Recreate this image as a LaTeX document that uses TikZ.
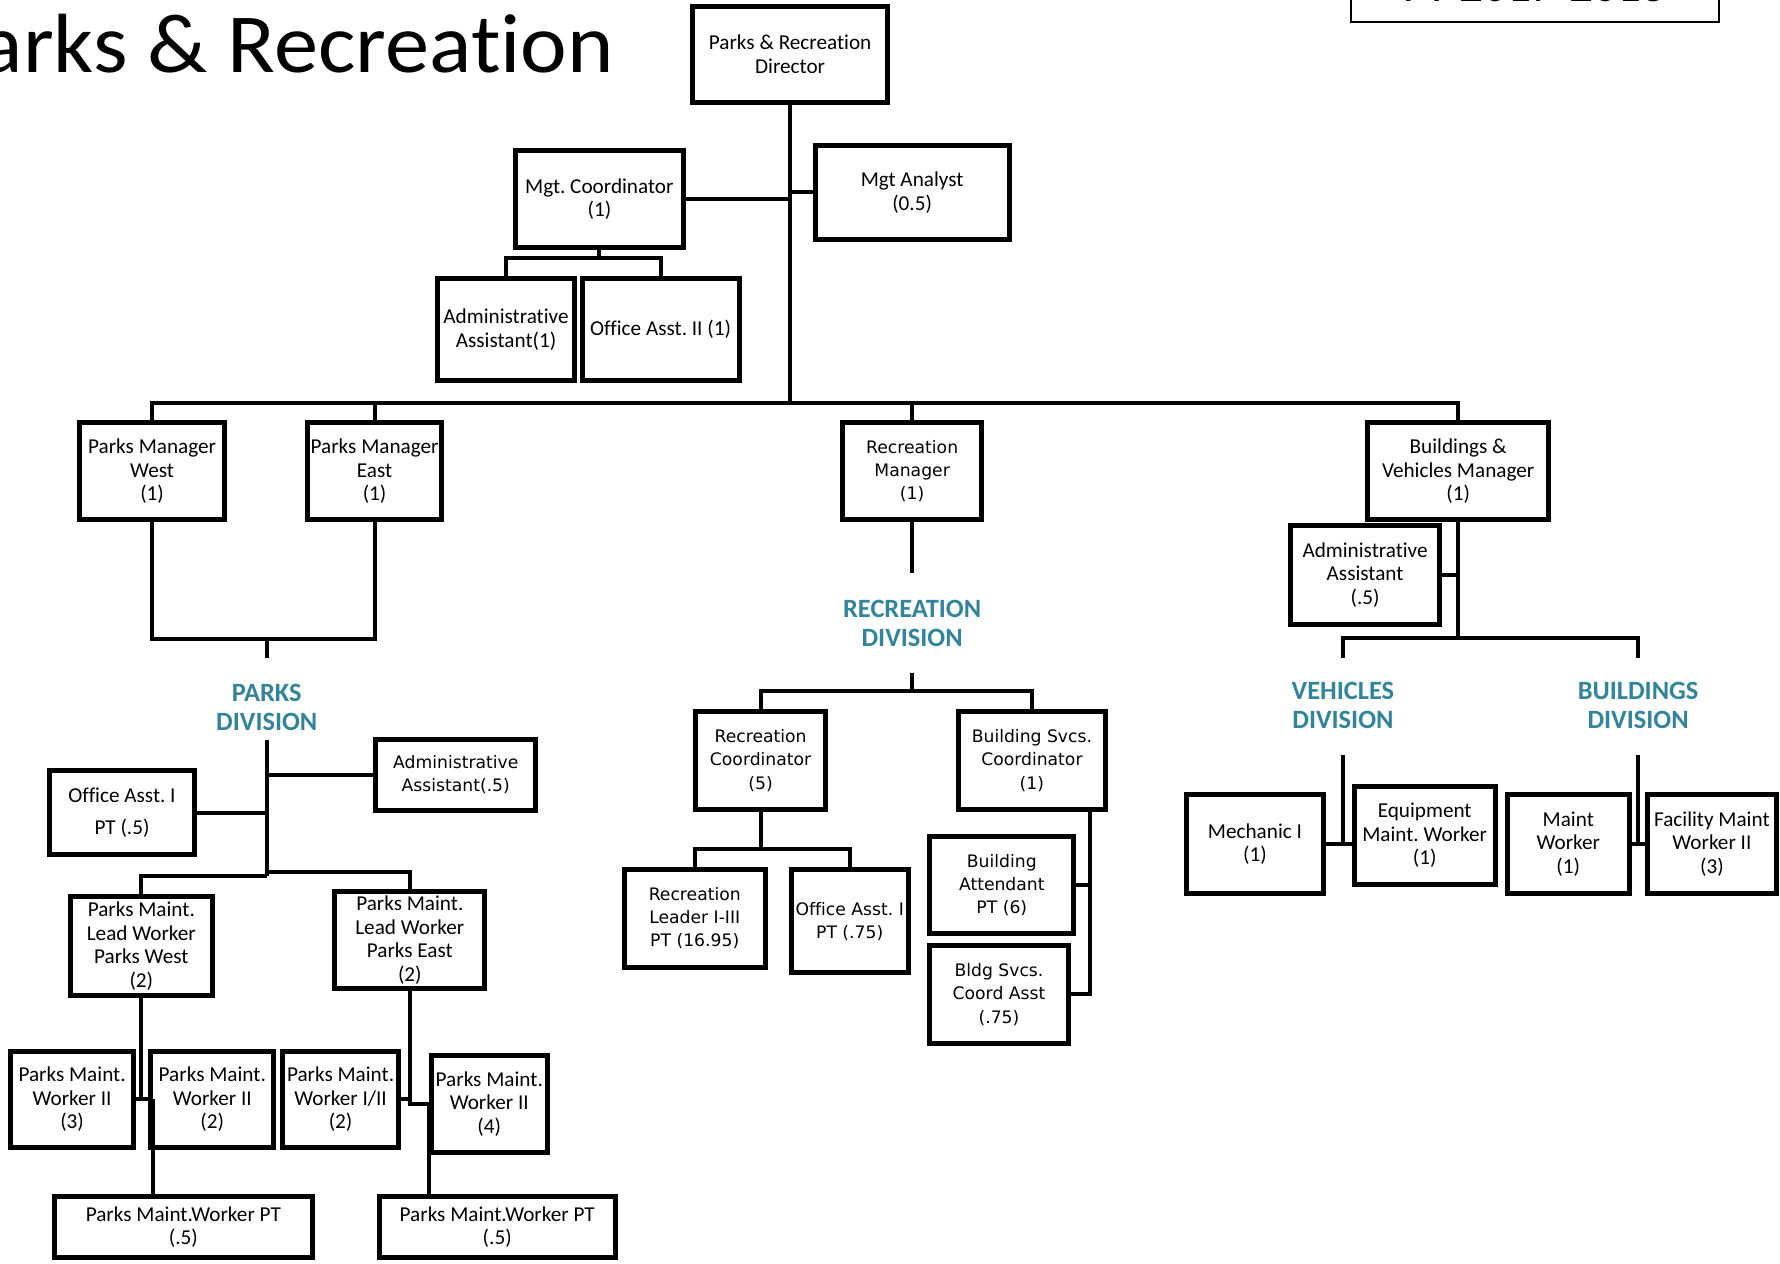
\documentclass[tikz,border=0pt]{standalone}
\usepackage{fontspec}
\setmainfont{Carlito}[Ligatures=NoCommon]
\newfontfamily\calfont{Carlito}[Ligatures=NoCommon]
\newfontfamily\verfont{DejaVu Sans}[Ligatures=NoCommon]
\definecolor{divteal}{RGB}{49,132,155}
\newcommand\ux{0.5676pt}
% \orgbox[options]{name}{left}{top}{right}{bottom}{text}
\newcommand\orgbox[7][]{%
  \node[box,#1,minimum width={(#5-#3)*\ux},minimum height={(#6-#4)*\ux}]
    (#2) at ({(#3+#5)/2},{(#4+#6)/2}) {#7};}
\tikzset{
  box/.style={draw,line width=2.5pt,inner sep=0pt,align=center,
    font=\calfont\fontsize{10.6}{11.8}\selectfont},
  vbox/.style={font=\verfont\fontsize{8.6}{11.6}\selectfont},
  conn/.style={line width=2pt},
  divlabel/.style={text=divteal,align=center,inner sep=0pt,
    font=\calfont\bfseries\fontsize{13.2}{14.8}\selectfont},
}
\begin{document}
\frenchspacing
\begin{tikzpicture}[x=0.5676pt,y=-0.5676pt]
\useasboundingbox (0,0) rectangle (1568,1112.6);
\clip (0,0) rectangle (1568,1112.6);

% heading and fiscal year tab
\node[anchor=base east,inner sep=0pt,xscale=1.052,
  font=\calfont\fontsize{42}{50}\selectfont]
  (title) at (541,64) {Parks \& Recreation};
\draw[line width=1pt] (1190,-80) rectangle (1514,19);
\node[anchor=base,inner sep=0pt,font=\calfont\fontsize{23.7}{28}\selectfont]
  (fy) at (1352,1.2) {FY 2017-2018};

% top management
\orgbox{dir}{610}{6}{782}{90}{Parks \& Recreation\\Director}
\orgbox{mgc}{454}{133}{602}{218}{Mgt. Coordinator\\(1)}
\orgbox{mga}{718}{128}{889}{211}{Mgt Analyst\\(0.5)}
\orgbox{aa1}{385}{245}{506.5}{335.6}{Administrative\\Assistant(1)}
\orgbox{oa2}{512.7}{245}{651}{335.6}{Office Asst. II (1)}

% managers
\orgbox{pmw}{70}{372}{198}{458}{Parks Manager\\West\\(1)}
\orgbox{pme}{271}{372}{389}{458}{Parks Manager\\East\\(1)}
\orgbox[vbox]{rm}{742}{372}{865}{458}{Recreation\\Manager\\(1)}
\orgbox{bvm}{1205}{372}{1364}{458}{Buildings \&\\Vehicles Manager\\(1)}

% parks division
\node[divlabel] (parksdiv) at (235,623) {PARKS\\DIVISION};
\orgbox{oa1}{44}{679}{171}{753}{Office Asst. I\\[4.5pt]PT (.5)}
\orgbox[vbox]{aa5}{331}{651}{472}{714}{Administrative\\Assistant(.5)}
\orgbox{lw}{62}{790}{187}{877}{Parks Maint.\\Lead Worker\\Parks West\\(2)}
\orgbox{le}{295}{785}{427}{871}{Parks Maint.\\Lead Worker\\Parks East\\(2)}
\orgbox{w1}{9}{926}{118}{1011}{Parks Maint.\\Worker II\\(3)}
\orgbox{w2}{133}{926}{241}{1011}{Parks Maint.\\Worker II\\(2)}
\orgbox{w3}{249}{926}{351}{1011}{Parks Maint.\\Worker I/II\\(2)}
\orgbox{w4}{380}{930}{482}{1015}{Parks Maint.\\Worker II\\(4)}
\orgbox{ptw}{48}{1054}{275}{1108}{Parks Maint.Worker PT\\(.5)}
\orgbox{pte}{334}{1054}{542}{1108}{Parks Maint.Worker PT\\(.5)}

% recreation division
\node[divlabel] (recdiv) at (803.5,549) {RECREATION\\DIVISION};
\orgbox[vbox]{rc}{613}{627}{727}{713}{Recreation\\Coordinator\\(5)}
\orgbox[vbox]{bsc}{844}{627}{974}{713}{Building Svcs.\\Coordinator\\(1)}
\orgbox[vbox]{rl}{550}{766}{674}{852}{Recreation\\Leader I-III\\PT (16.95)}
\orgbox[vbox]{oa75}{697}{766}{800}{857}{Office Asst. I\\PT (.75)}
\orgbox[vbox]{ba}{819}{737}{946}{822}{Building\\Attendant\\PT (6)}
\orgbox[vbox]{bca}{819}{833}{941}{919}{Bldg Svcs.\\Coord Asst\\(.75)}

% buildings and vehicles
\orgbox{aab}{1137}{463}{1268}{550}{Administrative\\Assistant\\(.5)}
\node[divlabel] (vehdiv) at (1183,621.5) {VEHICLES\\DIVISION};
\node[divlabel] (blddiv) at (1443,621.5) {BUILDINGS\\DIVISION};
\orgbox{mech}{1045}{700}{1166}{787}{Mechanic I\\(1)}
\orgbox{emw}{1193}{693}{1317}{779}{Equipment\\Maint. Worker\\(1)}
\orgbox{mw}{1328}{700}{1435}{787}{Maint\\Worker\\(1)}
\orgbox{fmw}{1451}{700}{1565}{787}{Facility Maint\\Worker II\\(3)}

% ---- connectors ----
\coordinate (busW) at (134,354.6);
\draw[conn] (dir.south) -- (dir.south |- busW);
\draw[conn] (pmw.north) -- (pmw.north |- busW) -- (bvm.north |- busW) -- (bvm.north);
\draw[conn] (pme.north) -- (pme.north |- busW);
\draw[conn] (rm.north) -- (rm.north |- busW);
\draw[conn] (mgc.east) -- (mgc.east -| dir.south);
\draw[conn] (mga.west) -- (mga.west -| dir.south);
\coordinate (mgcj) at (528,227);
\draw[conn] (mgc.south) -- (mgcj);
\draw[conn] (aa1.north) -- (aa1.north |- mgcj) -- (oa2.north |- mgcj) -- (oa2.north);

% parks
\coordinate (pj) at (235,563);
\coordinate (pjd) at (235,580);
\draw[conn] (pmw.south) -- (pmw.south |- pj) -- (pme.south |- pj) -- (pme.south);
\draw[conn] (pj) -- (pjd);
\coordinate (pdt) at (235,652);
\coordinate (pdb) at (235,772);
\coordinate (pdr) at (235,768);
\draw[conn] (pdt) -- (pdb);
\draw[conn] (oa1.east) -- (oa1.east -| pdt);
\draw[conn] (aa5.west) -- (aa5.west -| pdt);
\draw[conn] (pdb) -- (pdb -| lw.north) -- (lw.north);
\draw[conn] (pdr) -- (pdr -| le.north) -- (le.north);
\draw[conn] (lw.south) -- (lw.south |- w1.east);
\draw[conn] (w1.east) -- (w2.west);
\coordinate (ptwj) at (134.5,968.5);
\draw[conn] (ptwj) -- (ptwj |- ptw.north);
\draw[conn] (le.south) -- (le.south |- w4.west) -- (w4.west);
\draw[conn] (w3.east) -- (w3.east -| le.south);
\coordinate (ptej) at (378,972.5);
\draw[conn] (ptej) -- (ptej |- pte.north);

% recreation
\coordinate (rmd) at (803.5,505);
\draw[conn] (rm.south) -- (rmd);
\coordinate (rdt) at (803.5,593);
\coordinate (rdj) at (803.5,609);
\draw[conn] (rdt) -- (rdj);
\draw[conn] (rc.north) -- (rc.north |- rdj) -- (bsc.north |- rdj) -- (bsc.north);
\coordinate (rcj) at (670,748);
\draw[conn] (rc.south) -- (rcj);
\draw[conn] (rl.north) -- (rl.north |- rcj) -- (oa75.north |- rcj) -- (oa75.north);
\coordinate (bsj) at (960,712);
\draw[conn] (bsj) -- (bsj |- bca.east) -- (bca.east);
\draw[conn] (ba.east) -- (ba.east -| bsj);

% buildings and vehicles
\coordinate (bvj) at (1284.5,562);
\draw[conn] (bvm.south) -- (bvj);
\draw[conn] (aab.east) -- (aab.east -| bvj);
\coordinate (vdj) at (1183,580);
\coordinate (bdj) at (1443,580);
\draw[conn] (vdj) -- (vdj |- bvj) -- (bdj |- bvj) -- (bdj);
\coordinate (vdt) at (1183,665);
\draw[conn] (vdt) -- (vdt |- mech.east);
\draw[conn] (mech.east) -- (mech.east -| emw.west);
\coordinate (bdt) at (1443,665);
\draw[conn] (bdt) -- (bdt |- mw.east);
\draw[conn] (mw.east) -- (fmw.west);
\end{tikzpicture}
\end{document}
